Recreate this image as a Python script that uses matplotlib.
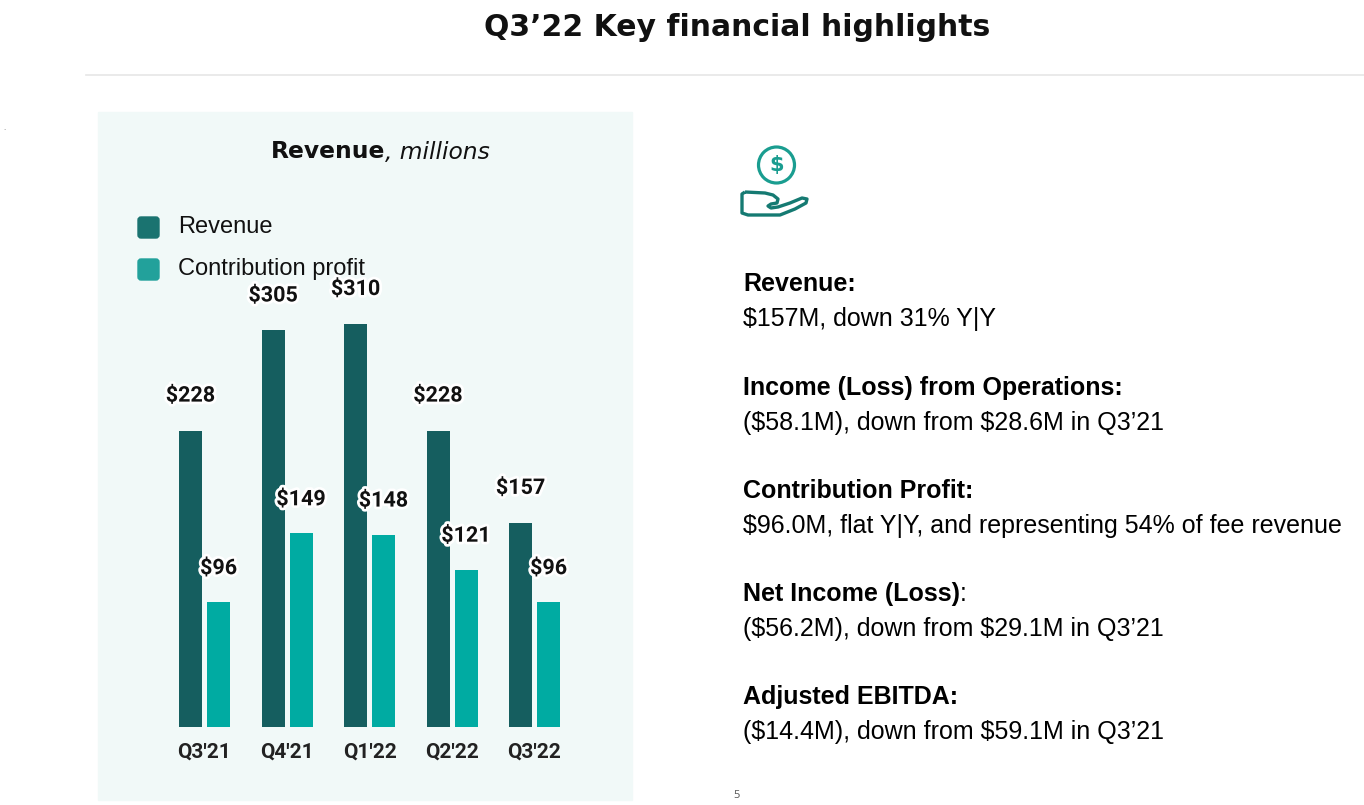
import numpy as np
import matplotlib.pyplot as plt
import matplotlib.patheffects as pe
import matplotlib.transforms as mtransforms
from matplotlib.patches import Rectangle, Circle, FancyBboxPatch, PathPatch
from matplotlib.path import Path

quarters = ["Q3'21", "Q4'21", "Q1'22", "Q2'22", "Q3'22"]
revenue = [228, 305, 310, 228, 157]
contribution = [96, 149, 148, 121, 96]

highlights = [
    ("Revenue:", "$157M, down 31% Y|Y"),
    ("Income (Loss) from Operations:", "($58.1M), down from $28.6M in Q3\u201921"),
    ("Contribution Profit:", "$96.0M, flat Y|Y, and representing 54% of fee revenue"),
    ("Net Income (Loss)", "($56.2M), down from $29.1M in Q3\u201921"),
    ("Adjusted EBITDA:", "($14.4M), down from $59.1M in Q3\u201921"),
]

c_rev = '#155e5f'
c_con = '#00aba2'
teal_icon = '#1a9d90'

W, H = 1364, 805
fig = plt.figure(figsize=(W / 100, H / 100), dpi=100)

# background layer in pixel coordinates
bg = fig.add_axes([0, 0, 1, 1])
bg.set_xlim(0, W)
bg.set_ylim(H, 0)
bg.axis('off')


def after(txt):
    # transform that puts a text right after another one (x in display px)
    fig.canvas.draw()
    return txt.get_window_extent().x1, mtransforms.blended_transform_factory(
        mtransforms.IdentityTransform(), bg.transData)


bg.add_patch(Rectangle((98, 112), 534, 688, color='#f1f9f8', zorder=0))
bg.plot([86, W], [75, 75], color='#e6e6e6', lw=1.2)
bg.text(737, 27, "Q3\u201922 Key financial highlights", ha='center', va='center',
        fontsize=21.5, fontweight='bold', family='DejaVu Sans', color='#111111')
bg.text(3, 130, ".", fontsize=5, color='#777777')

# panel title
t1 = bg.text(271, 152, "Revenue", ha='left', va='center', fontsize=16.8,
             fontweight='bold', family='DejaVu Sans', color='#111111')
x1, tr = after(t1)
bg.text(x1, 152, ", millions", ha='left', va='center', fontsize=16.8,
        style='italic', family='DejaVu Sans', color='#111111', transform=tr)

# legend
for y0, col, lab in [(216, '#1a7370', 'Revenue'), (258, '#22a19b', 'Contribution profit')]:
    bg.add_patch(FancyBboxPatch((138, y0 + 1), 21, 21,
                                boxstyle='round,pad=0,rounding_size=3', color=col))
    bg.text(178, y0 + 11, lab, ha='left', va='center', fontsize=17,
            family='Liberation Sans', color='#111111')

# icon: coin and hand
bg.add_patch(Circle((776.5, 165), 18, fill=False, ec=teal_icon, lw=2.3))
bg.text(776.5, 165.5, r"\$", ha='center', va='center', fontsize=15, fontweight='bold',
        family='DejaVu Sans', color=teal_icon)
hand = [(745, 192), (765, 193), (773, 195), (778, 199), (777, 203), (771, 204),
        (768, 206), (771, 208), (778, 207), (790, 203), (802, 198), (807, 199),
        (806, 203), (795, 209), (780, 215), (748, 215), (742, 213), (742, 194),
        (745, 192)]
bg.add_patch(PathPatch(Path(hand), fill=False, ec='#157a72', lw=2.4,
                       joinstyle='round'))

# right text block
ys = [284, 388, 491, 594, 697]
for (head, body), y in zip(highlights, ys):
    th = bg.text(743, y, head, ha='left', va='center', fontsize=18,
                 fontweight='bold', family='Liberation Sans', color='#000000')
    if head == "Net Income (Loss)":
        x1, tr = after(th)
        bg.text(x1, y, ":", ha='left', va='center', fontsize=18,
                family='Liberation Sans', color='#000000', transform=tr)
    bg.text(743, y + 35, body.replace('$', r'\$'), ha='left', va='center', fontsize=18,
            family='Liberation Sans', color='#000000')

bg.text(737, 795, "5", ha='center', va='center', fontsize=8,
        family='Open Sans', color='#555555')

# bar chart axes (pixel aligned: baseline y=727, 1.3 px per unit)
ax_left, ax_right = 163.25, 575.75
ax_bottom = 727
ax_top = ax_bottom - 400 * 1.3
ax = fig.add_axes([ax_left / W, (H - ax_bottom) / H,
                   (ax_right - ax_left) / W, (ax_bottom - ax_top) / H])
ax.set_facecolor('none')
ax.set_xlim(-0.5, 4.5)
ax.set_ylim(0, 400)

x = np.arange(len(quarters))
bw = 23 / 82.5
off = 14 / 82.5
ax.bar(x - off, revenue, bw, color=c_rev)
ax.bar(x + off, contribution, bw, color=c_con)

stroke = [pe.withStroke(linewidth=4, foreground='white')]
for xi, v in zip(x - off, revenue):
    ax.text(xi, v + 35 / 1.3, rf"\${v}", ha='center', va='center', fontsize=15.5,
            fontweight='bold', family='Roboto', color='#111111', path_effects=stroke)
for xi, v in zip(x + off, contribution):
    ax.text(xi, v + 34 / 1.3, rf"\${v}", ha='center', va='center', fontsize=15.5,
            fontweight='bold', family='Roboto', color='#111111', path_effects=stroke)

ax.set_xticks(x)
ax.set_xticklabels(quarters, fontsize=15, fontweight='bold', family='Roboto',
                   color='#222222')
ax.tick_params(axis='x', length=0, pad=11)
ax.set_yticks([])
for s in ax.spines.values():
    s.set_visible(False)

fig.savefig('out.png', dpi=100)
